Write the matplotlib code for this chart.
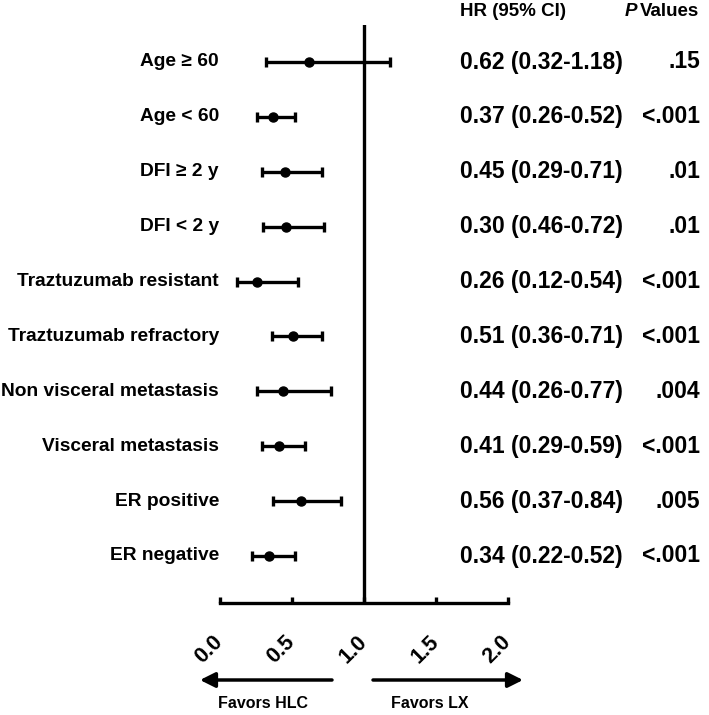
import matplotlib
matplotlib.use("Agg")
import matplotlib.pyplot as plt
from matplotlib.patches import FancyArrowPatch
from matplotlib.transforms import blended_transform_factory

plt.rcParams['font.family'] = ['Liberation Sans', 'DejaVu Sans']
plt.rcParams['font.weight'] = 'bold'

subgroups = ["Age \u2265 60", "Age < 60", "DFI \u2265 2 y", "DFI < 2 y",
             "Traztuzumab resistant", "Traztuzumab refractory",
             "Non visceral metastasis", "Visceral metastasis",
             "ER positive", "ER negative"]
# plotted positions (as drawn in the figure)
hr = [0.62, 0.37, 0.45, 0.46, 0.26, 0.51, 0.44, 0.41, 0.56, 0.34]
lo = [0.32, 0.26, 0.29, 0.30, 0.12, 0.36, 0.26, 0.29, 0.37, 0.22]
hi = [1.18, 0.52, 0.71, 0.72, 0.54, 0.71, 0.77, 0.59, 0.84, 0.52]
ci_text = ["0.62 (0.32-1.18)", "0.37 (0.26-0.52)", "0.45 (0.29-0.71)",
           "0.30 (0.46-0.72)", "0.26 (0.12-0.54)", "0.51 (0.36-0.71)",
           "0.44 (0.26-0.77)", "0.41 (0.29-0.59)", "0.56 (0.37-0.84)",
           "0.34 (0.22-0.52)"]
p_text = [".15", "<.001", ".01", ".01", "<.001", "<.001", ".004",
          "<.001", ".005", "<.001"]
xticks = [0.0, 0.5, 1.0, 1.5, 2.0]
xticklabels = ["0.0", "0.5", "1.0", "1.5", "2.0"]

W, H = 709, 715
fig = plt.figure(figsize=(W / 100, H / 100), dpi=100)
# axes: x pixels 220..508, y pixels 25..603
x0, x1, yt, yb = 220, 508, 25, 603
ax = fig.add_axes([x0 / W, 1 - yb / H, (x1 - x0) / W, (yb - yt) / H])

n = len(subgroups)
ys = list(range(n))
err_lo = [h - l for h, l in zip(hr, lo)]
err_hi = [u - h for h, u in zip(hr, hi)]
ax.errorbar(hr, ys, xerr=[err_lo, err_hi], fmt='o', color='black',
            ms=6.5, elinewidth=2.4, capsize=3.5, capthick=2.4, zorder=3)
ax.axvline(1.0, color='black', lw=2.4, zorder=2)

r0, r9 = 62, 556
sp = (r9 - r0) / 9
ax.set_ylim(9 + (yb - r9) / sp, -(r0 - yt) / sp)
ax.set_xlim(0, 2)
for s in ['left', 'top', 'right']:
    ax.spines[s].set_visible(False)
ax.spines['bottom'].set_linewidth(2.4)
ax.set_yticks([])
ax.set_xticks(xticks)
ax.set_xticklabels(xticklabels, rotation=45, ha='right', va='center',
                   rotation_mode='anchor', fontsize=15.5, fontweight='bold')
ax.tick_params(axis='x', direction='in', length=4, width=2.4, pad=26)

tr = blended_transform_factory(fig.transFigure, ax.transData)
for i in range(n):
    fig.text(219 / W, i, subgroups[i], transform=tr, ha='right', va='center',
             fontsize=13.8, fontweight='bold')
    fig.text(460 / W, i, ci_text[i], transform=tr, ha='left', va='center',
             fontsize=16.5, fontweight='bold')
    fig.text(700 / W, i, p_text[i], transform=tr, ha='right', va='center',
             fontsize=16.5, fontweight='bold')

fig.text(460 / W, 1 - 12 / H, "HR (95% CI)", ha='left', va='center',
         fontsize=13.5, fontweight='bold')
fig.text(699 / W, 1 - 12 / H, "Values", ha='right', va='center',
         fontsize=13.5, fontweight='bold')
fig.text(625 / W, 1 - 12 / H, "P", ha='left', va='center',
         fontsize=13.5, fontweight='bold', style='italic')

# Favors arrows
ya = 1 - 680 / H
for xs, xe in [(332, 200), (373, 523)]:
    fig.add_artist(FancyArrowPatch(
        (xs / W, ya), (xe / W, ya), transform=fig.transFigure,
        arrowstyle='-|>,head_length=9,head_width=4.5', mutation_scale=1,
        lw=2.5, color='black', shrinkA=0, shrinkB=0))
fig.text(263 / W, 1 - 703 / H, "Favors HLC", ha='center', va='center',
         fontsize=11.5, fontweight='bold')
fig.text(430 / W, 1 - 703 / H, "Favors LX", ha='center', va='center',
         fontsize=11.5, fontweight='bold')

fig.savefig("out.png", dpi=100)
